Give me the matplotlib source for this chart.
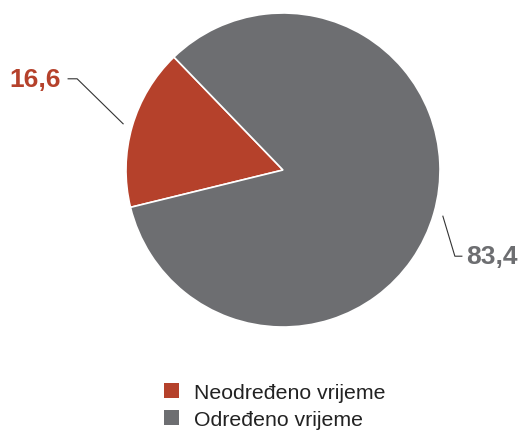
import numpy as np
import matplotlib.pyplot as plt
from matplotlib.patches import Patch

plt.rcParams['font.family'] = ['Liberation Sans', 'DejaVu Sans']

labels = ['Neodređeno vrijeme', 'Određeno vrijeme']
values = [16.6, 83.4]
value_text = ['16,6', '83,4']
colors = ['#B5412B', '#6D6E71']

W, H = 520, 431
fig = plt.figure(figsize=(W / 100, H / 100), dpi=100)
ax = fig.add_axes([0, 0, 1, 1])
ax.set_xlim(0, W)
ax.set_ylim(0, H)
ax.set_aspect('equal')
ax.axis('off')

cx, cy, r = 283, H - 171, 157
wedges, _ = ax.pie(values, colors=colors, startangle=134, counterclock=True,
                   center=(cx, cy), radius=r,
                   wedgeprops=dict(edgecolor='white', linewidth=1.2))
ax.set_xlim(0, W)
ax.set_ylim(0, H)

# leader lines + labels
for i, w in enumerate(wedges):
    mid = np.deg2rad((w.theta1 + w.theta2) / 2)
    x0 = cx + 1.06 * r * np.cos(mid)
    y0 = cy + 1.06 * r * np.sin(mid)
    if np.cos(mid) < 0:
        xe, ye = x0 - 46, y0 + 45
        xt = xe - 9
        ax.plot([x0, xe, xt], [y0, ye, ye], color='#333333', lw=0.8)
        ax.text(xt - 7, ye, value_text[i], ha='right', va='center',
                fontsize=19, fontweight='bold', color=colors[i])
    else:
        xe, ye = x0 + 12, y0 - 40
        xt = xe + 7
        ax.plot([x0, xe, xt], [y0, ye, ye], color='#333333', lw=0.8)
        ax.text(xt + 4, ye, value_text[i], ha='left', va='center',
                fontsize=19, fontweight='bold', color=colors[i])

handles = [Patch(facecolor=c, edgecolor='none') for c in colors]
ax.legend(handles, labels, loc='upper left', bbox_to_anchor=(153 / W, 1 - 373 / H),
          frameon=False, fontsize=15.3, handlelength=0.7, handleheight=0.7,
          handletextpad=0.75, labelspacing=0.38, borderpad=0, labelcolor='#222222')

fig.savefig('out.png', dpi=100)
